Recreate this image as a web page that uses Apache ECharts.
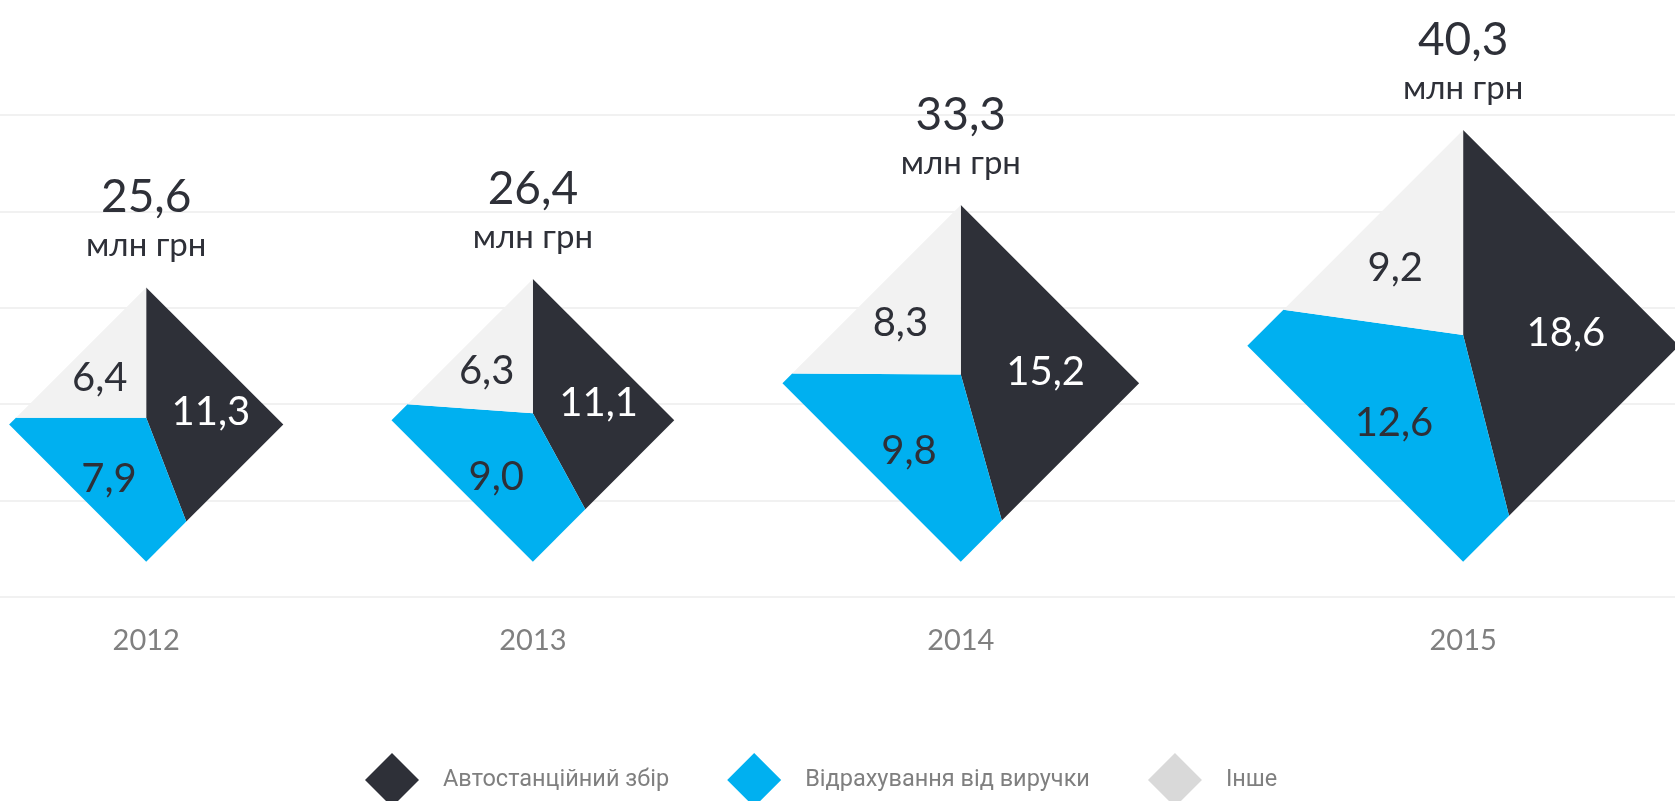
<!DOCTYPE html>
<html>
<head>
<meta charset="utf-8">
<script src="https://cdn.jsdelivr.net/npm/echarts@6/dist/echarts.min.js"></script>
<style>
    html, body { margin: 0; padding: 0; background: #fff; }
    #chart { width: 1675px; height: 801px; }
</style>
</head>
<body>
<div id="chart"></div>
<script>
// дані, млн грн
const years = ['2012', '2013', '2014', '2015'];
const stationFee = [11.3, 11.1, 15.2, 18.6];
const revenueShare = [7.9, 9.0, 9.8, 12.6];
const other = [6.4, 6.3, 8.3, 9.2];
const totals = [25.6, 26.4, 33.3, 40.3];
const seriesNames = ['Автостанційний збір', 'Відрахування від виручки', 'Інше'];
const unitLabel = 'млн грн';

// оформлення
const colors = ['#2e3038', '#00b0f0', '#f2f2f2'];
const legendColors = ['#2e3038', '#00b0f0', '#d9d9d9'];
const labelColors = ['#ffffff', '#2e3038', '#2e3038'];
const FONT = 'Lato, "Open Sans", sans-serif';
const Y_MAX = 45;
const Y_STEP = 9;
const BASE = 3.3;          // нижня вершина ромба по осі y
const FIRST_CENTER = 13.65; // центр першого ромба по осі x
const GAP = 10.1;          // відступ між ромбами
const GRID = { left: 0, right: 0, top: 115, bottom: 204 };

const chart = echarts.init(document.getElementById('chart'));

// вісь x в тих самих одиницях що й y, щоб ромби були квадратні
const xMax = Y_MAX * (chart.getWidth() - GRID.left - GRID.right) / (chart.getHeight() - GRID.top - GRID.bottom);

// центри ромбів: щільне розміщення по розміру
const centers = [];
totals.forEach((t, i) => {
    if (i === 0) centers.push(FIRST_CENTER);
    else centers.push(centers[i - 1] + totals[i - 1] / 2 + GAP + t / 2);
});

const fmt = v => v.toFixed(1).replace('.', ',');

function angleOf(p, pc) {
    let a = Math.atan2(p[0] - pc[0], -(p[1] - pc[1]));
    if (a < 0) a += Math.PI * 2;
    return a;
}

function hit(pc, a, verts) {
    const d = [Math.sin(a), -Math.cos(a)];
    for (let j = 0; j < 4; j++) {
        const p = verts[j], q = verts[(j + 1) % 4];
        const e = [q[0] - p[0], q[1] - p[1]];
        const den = d[0] * e[1] - d[1] * e[0];
        if (Math.abs(den) < 1e-9) continue;
        const w = [p[0] - pc[0], p[1] - pc[1]];
        const t = (w[0] * e[1] - w[1] * e[0]) / den;
        const s = (w[0] * d[1] - w[1] * d[0]) / den;
        if (t > 1e-6 && s >= -1e-6 && s <= 1 + 1e-6) return [pc[0] + t * d[0], pc[1] + t * d[1]];
    }
    return [pc[0], pc[1]];
}

function diamondGeom(api, cx, total) {
    const bottom = api.coord([cx, BASE]);
    const top = api.coord([cx, BASE + total]);
    const r = (bottom[1] - top[1]) / 2;
    const c = [bottom[0], bottom[1] - r];
    const pc = [c[0], c[1] - r * 0.05];
    const verts = [[c[0], c[1] - r], [c[0] + r, c[1]], [c[0], c[1] + r], [c[0] - r, c[1]]];
    return { r, c, pc, verts, top };
}

function makeSliceSeries(k, values) {
    const data = values.map((v, i) => {
        let start = 0;
        for (let m = 0; m < k; m++) start += [stationFee, revenueShare, other][m][i];
        return [centers[i], totals[i], start, v];
    });
    return {
        name: seriesNames[k],
        type: 'custom',
        clip: false,
        itemStyle: { color: colors[k] },
        data: data,
        renderItem: function (params, api) {
            const cx = api.value(0), total = api.value(1), start = api.value(2), val = api.value(3);
            const g = diamondGeom(api, cx, total);
            const sum = stationFee[params.dataIndex] + revenueShare[params.dataIndex] + other[params.dataIndex];
            const a0 = start / sum * Math.PI * 2;
            const a1 = (start + val) / sum * Math.PI * 2;
            const pts = [g.pc, hit(g.pc, a0, g.verts)];
            for (let j = 1; j < 4; j++) {
                const va = angleOf(g.verts[j], g.pc);
                if (va > a0 && va < a1) pts.push(g.verts[j]);
            }
            pts.push(a1 >= Math.PI * 2 - 1e-6 ? g.verts[0] : hit(g.pc, a1, g.verts));
            const am = (a0 + a1) / 2;
            const lr = g.r * 0.48;
            return {
                type: 'group',
                children: [
                    {
                        type: 'polygon',
                        shape: { points: pts },
                        style: { fill: colors[k] }
                    },
                    {
                        // підпис по середині сектора, від центру ромба
                        type: 'text',
                        x: g.c[0] + Math.sin(am) * lr,
                        y: g.c[1] - Math.cos(am) * lr,
                        style: {
                            text: fmt(val),
                            fill: labelColors[k],
                            font: '40px ' + FONT,
                            align: 'center',
                            verticalAlign: 'middle'
                        }
                    }
                ]
            };
        }
    };
}

const totalSeries = {
    name: 'total',
    type: 'custom',
    clip: false,
    data: totals.map((t, i) => [centers[i], t]),
    renderItem: function (params, api) {
        const cx = api.value(0), total = api.value(1);
        const g = diamondGeom(api, cx, total);
        const axisBottom = api.coord([cx, 0]);
        return {
            type: 'group',
            children: [
                {
                    type: 'text', x: g.top[0], y: g.top[1] - 90,
                    style: { text: fmt(total), fill: '#2e3038', font: '46px ' + FONT, align: 'center', verticalAlign: 'middle' }
                },
                {
                    type: 'text', x: g.top[0], y: g.top[1] - 42,
                    style: { text: unitLabel, fill: '#2e3038', font: '33px ' + FONT, align: 'center', verticalAlign: 'middle' }
                },
                {
                    type: 'text', x: axisBottom[0], y: axisBottom[1] + 44,
                    style: { text: years[params.dataIndex], fill: '#808080', font: '29px ' + FONT, align: 'center', verticalAlign: 'middle' }
                }
            ]
        };
    }
};

const option = {
    animation: false,
    grid: GRID,
    legend: {
        left: 360,
        top: 748,
        icon: 'diamond',
        itemWidth: 54,
        itemHeight: 54,
        itemGap: 58,
        textStyle: {
            color: '#7f7f7f',
            fontSize: 23.5,
            fontFamily: '"Liberation Sans Narrow", Roboto, sans-serif',
            padding: [0, 0, 0, 19]
        },
        data: seriesNames.map((n, k) => ({ name: n, itemStyle: { color: legendColors[k] } }))
    },
    xAxis: {
        type: 'value',
        min: 0,
        max: xMax,
        show: false,
        splitLine: { show: false }
    },
    yAxis: {
        type: 'value',
        min: 0,
        max: Y_MAX,
        interval: Y_STEP,
        axisLine: { show: false },
        axisTick: { show: false },
        axisLabel: { show: false },
        splitLine: { lineStyle: { color: '#ececec', width: 1.5 } }
    },
    series: [
        makeSliceSeries(0, stationFee),
        makeSliceSeries(1, revenueShare),
        makeSliceSeries(2, other),
        totalSeries
    ]
};

chart.setOption(option);
</script>
</body>
</html>
